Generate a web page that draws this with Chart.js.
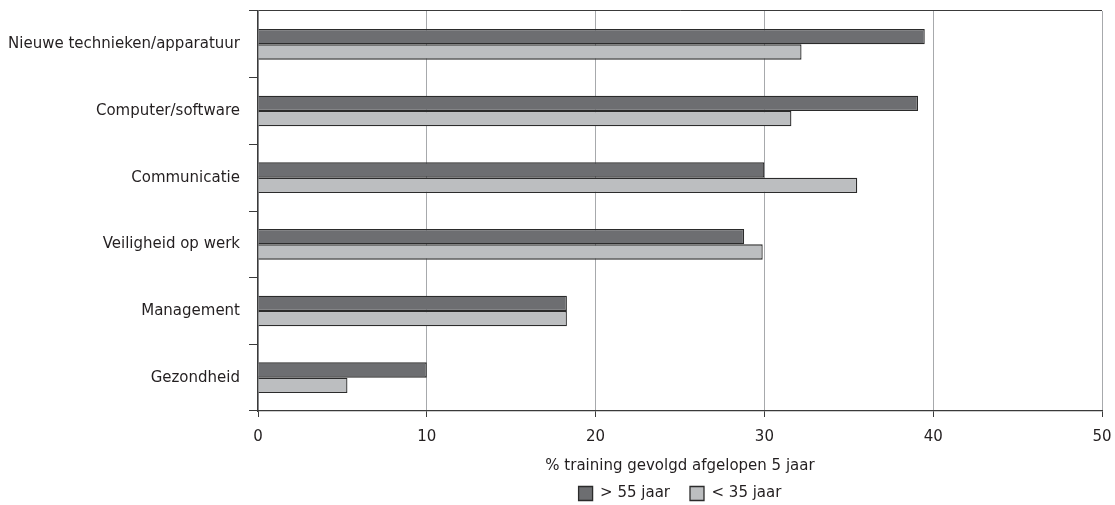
<!DOCTYPE html>
<html>
<head>
<meta charset="utf-8">
<script src="https://cdn.jsdelivr.net/npm/chart.js@4"></script>
<style>
  html, body { margin: 0; padding: 0; background: #fff; }
  #wrap { width: 1115px; height: 505px; position: relative; }
</style>
</head>
<body>
<div id="wrap"><canvas id="c" width="1115" height="505"></canvas></div>
<script>
const categories = ["Nieuwe technieken/apparatuur", "Computer/software", "Communicatie", "Veiligheid op werk", "Management", "Gezondheid"];
const seriesNames = ["> 55 jaar", "< 35 jaar"];
const older = [39.5, 39.1, 30.0, 28.8, 18.3, 10.0];
const younger = [32.2, 31.6, 35.5, 29.9, 18.3, 5.3];
const xTicks = [0, 10, 20, 30, 40, 50];
const xTitle = "% training gevolgd afgelopen 5 jaar";

const FONT = "'DejaVu Sans', sans-serif";
const TEXT = "#231f20";

new Chart(document.getElementById('c'), {
  type: 'bar',
  data: {
    labels: categories,
    datasets: [
      { label: seriesNames[0], data: older, backgroundColor: '#6d6e71', borderColor: '#2b2b2b', borderWidth: 1.3 },
      { label: seriesNames[1], data: younger, backgroundColor: '#bcbec0', borderColor: '#2b2b2b', borderWidth: 1.3 }
    ]
  },
  options: {
    indexAxis: 'y',
    responsive: false,
    animation: false,
    devicePixelRatio: 1,
    layout: { padding: { left: 0, right: 13, top: 11, bottom: 0 } },
    datasets: { bar: { categoryPercentage: 0.46, barPercentage: 1.0 } },
    scales: {
      x: {
        min: 0, max: 50,
        afterBuildTicks: (s) => { s.ticks = xTicks.map(v => ({ value: v })); },
        afterFit: (s) => { s.height = 55; s.paddingLeft = 0; s.paddingRight = 0; },
        grid: { color: '#a7a9ac', lineWidth: 1, tickLength: 6, tickColor: '#3a3a3a' },
        border: { color: '#3a3a3a', width: 1.3 },
        ticks: { color: TEXT, font: { family: FONT, size: 15 }, padding: 11 },
        title: { display: true, text: xTitle, color: TEXT, font: { family: FONT, size: 15 }, padding: { top: 0, bottom: -9 } }
      },
      y: {
        afterFit: (s) => { s.width = 258; s.paddingTop = 0; s.paddingBottom = 0; },
        grid: {
          offset: true,
          color: (ctx) => ctx.index === 0 ? '#3a3a3a' : 'transparent',
          tickColor: '#3a3a3a',
          tickLength: 9,
          lineWidth: 1
        },
        border: { color: '#3a3a3a', width: 1.3 },
        ticks: { color: TEXT, font: { family: FONT, size: 15 }, padding: 9 }
      }
    },
    plugins: {
      legend: {
        position: 'bottom',
        fullSize: false,
        maxHeight: 39,
        labels: {
          color: TEXT,
          font: { family: FONT, size: 15 },
          boxWidth: 14, boxHeight: 14,
          padding: 20,
          useBorderRadius: false
        }
      },
      tooltip: { enabled: false }
    }
  }
});
</script>
</body>
</html>
